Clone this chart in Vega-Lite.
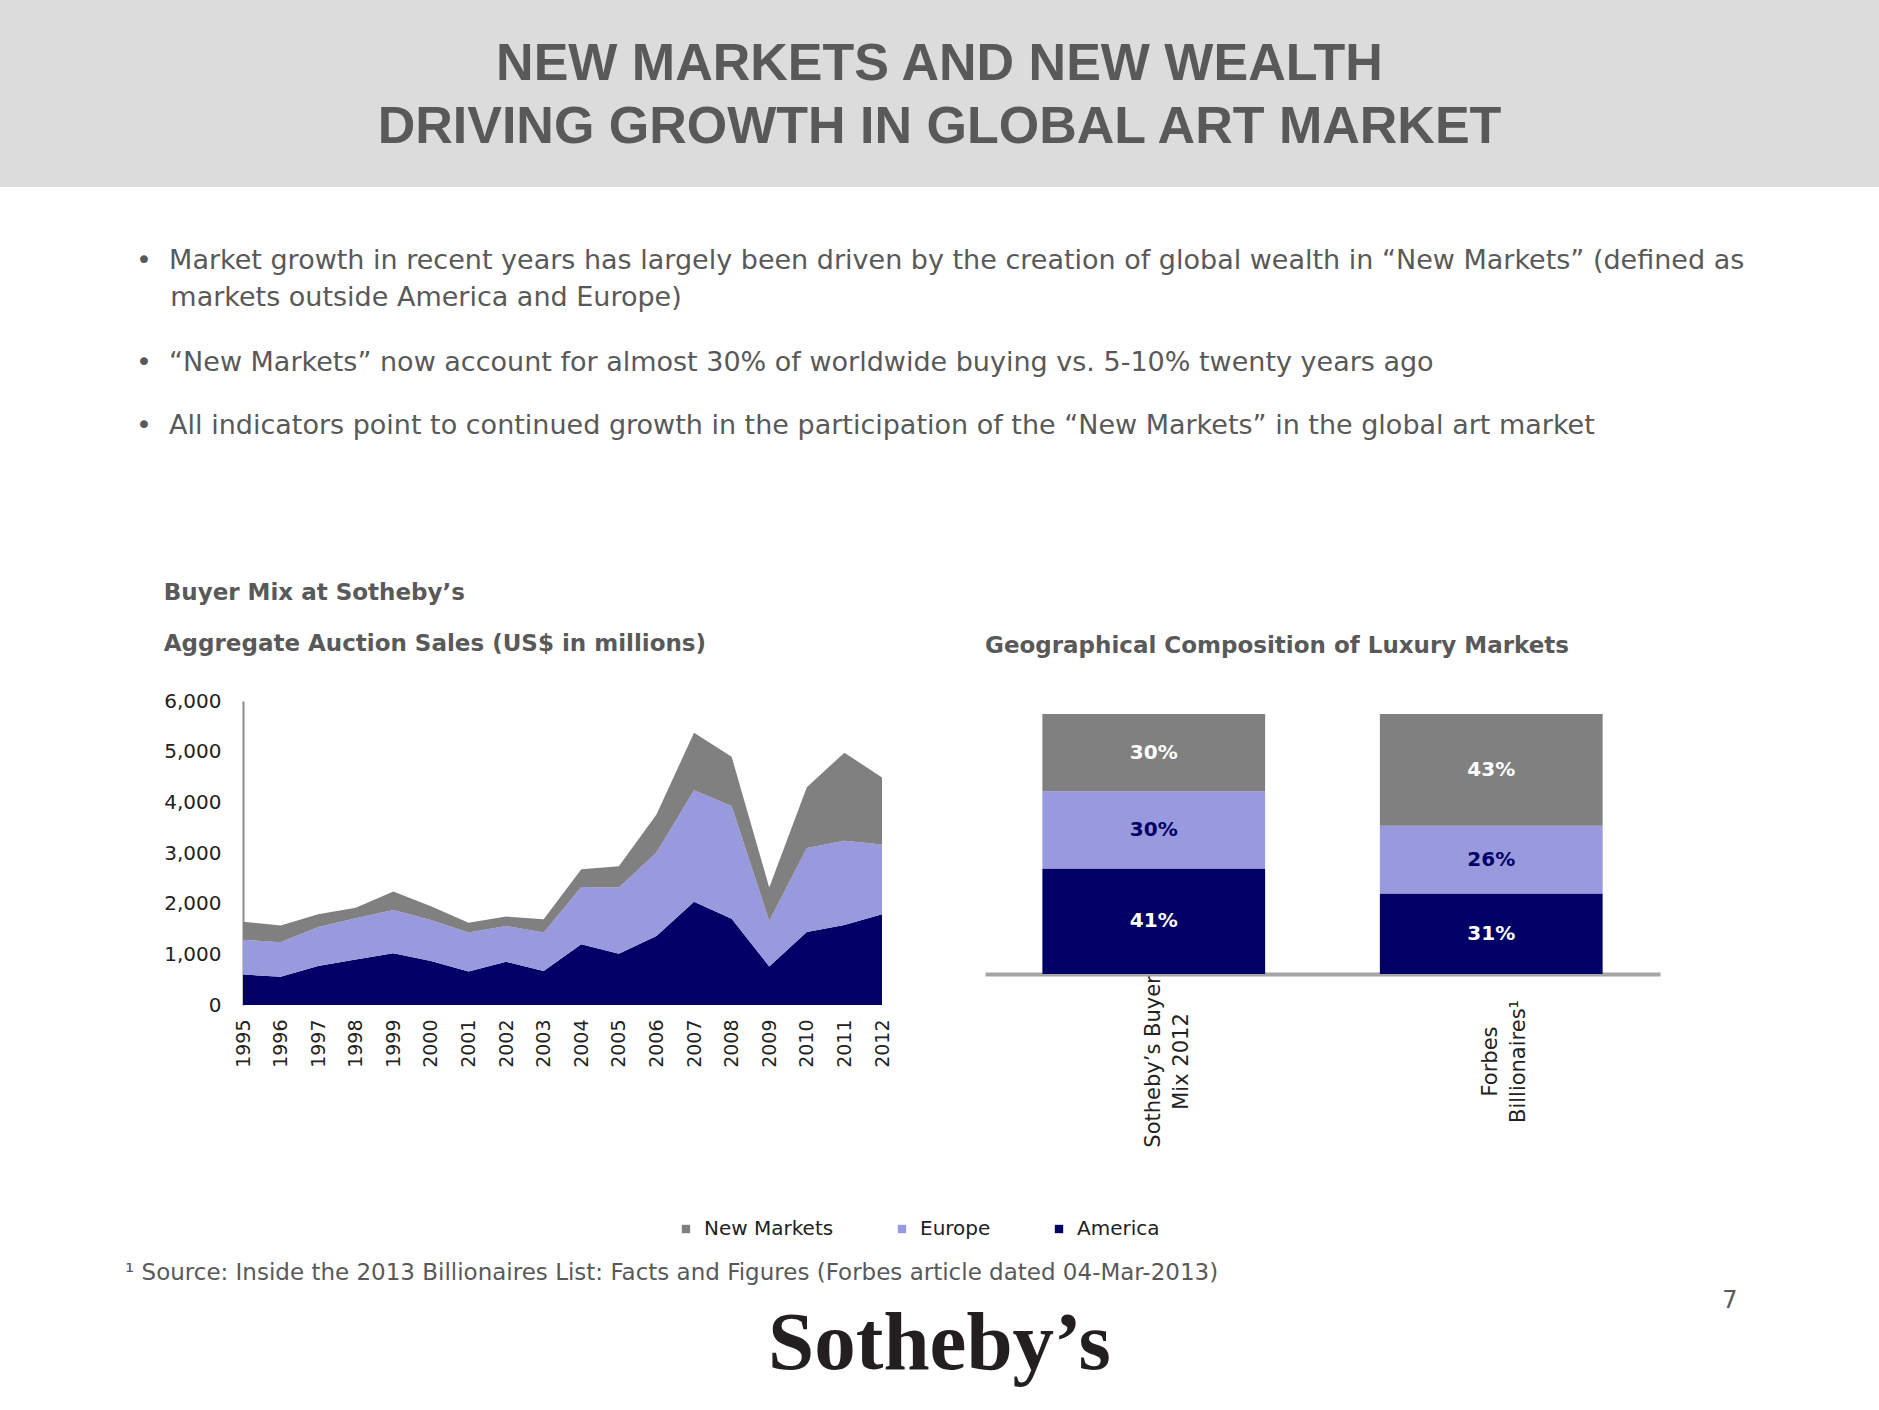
{
  "$schema": "https://vega.github.io/schema/vega-lite/v6.json",
  "padding": {"left": 0, "top": 0, "right": 0, "bottom": 20},
  "background": "#ffffff",
  "bounds": "full",
  "spacing": 0,
  "resolve": {"scale": {"color": "independent"}, "legend": {"color": "independent"}},
  "config": {
    "view": {"stroke": null},
    "legend": {"layout": {"bottom": {"anchor": "middle"}}},
    "axis": {"labelFont": "DejaVu Sans"}
  },
  "vconcat": [
    {
      "width": 1879,
      "height": 187,
      "view": {"fill": "#dcdcdc", "stroke": null},
      "data": {"values": [{"line": "1", "t": "NEW MARKETS AND NEW WEALTH"}, {"line": "2", "t": "DRIVING GROWTH IN GLOBAL ART MARKET"}]},
      "mark": {"type": "text", "font": "Liberation Sans", "fontSize": 52, "fontWeight": "bold", "color": "#595959", "align": "center", "baseline": "middle"},
      "encoding": {
        "y": {"field": "line", "type": "ordinal", "axis": null, "scale": {"type": "point", "padding": 0.984, "align": 0.516}},
        "text": {"field": "t"}
      }
    },
    {
      "width": 272,
      "height": 306,
      "encoding": {
        "y": {"field": "b", "type": "ordinal", "axis": null, "scale": {"type": "point", "domain": ["A", "B"], "padding": 1, "align": 0.404}},
        "text": {"field": "t"}
      },
      "layer": [
        {
          "data": {"values": [{"b": "A", "t": "•\u00a0\u00a0Market growth in recent years has largely been driven by the creation of global wealth in “New Markets” (defined as\n\u200b\u00a0\u00a0\u00a0\u00a0markets outside America and Europe)"}]},
          "mark": {"type": "text", "font": "DejaVu Sans", "fontSize": 27, "color": "#595959", "align": "left", "baseline": "alphabetic", "lineBreak": "\n", "lineHeight": 37}
        },
        {
          "data": {"values": [{"b": "B", "t": "•\u00a0\u00a0“New Markets” now account for almost 30% of worldwide buying vs. 5-10% twenty years ago\n•\u00a0\u00a0All indicators point to continued growth in the participation of the “New Markets” in the global art market"}]},
          "mark": {"type": "text", "font": "DejaVu Sans", "fontSize": 27, "color": "#595959", "align": "left", "baseline": "alphabetic", "lineBreak": "\n", "lineHeight": 63}
        }
      ]
    },
    {"width": 1, "height": 89, "data": {"values": []}, "mark": "point"},
    {
      "bounds": "flush",
      "spacing": 103,
      "hconcat": [
        {"width": 140, "height": 1, "data": {"values": []}, "mark": "point"},
        {
          "width": 639,
          "height": 304,
          "title": {"text": ["Buyer Mix at Sotheby’s", "Aggregate Auction Sales (US$ in millions)"], "anchor": "start", "frame": "bounds", "font": "DejaVu Sans", "fontSize": 23, "fontWeight": "bold", "color": "#595959", "lineHeight": 51, "offset": 35},
          "data": {"values": [
            {"year": "1995", "region": "America", "value": 600}, {"year": "1995", "region": "Europe", "value": 690}, {"year": "1995", "region": "New Markets", "value": 355},
            {"year": "1996", "region": "America", "value": 560}, {"year": "1996", "region": "Europe", "value": 680}, {"year": "1996", "region": "New Markets", "value": 330},
            {"year": "1997", "region": "America", "value": 770}, {"year": "1997", "region": "Europe", "value": 770}, {"year": "1997", "region": "New Markets", "value": 250},
            {"year": "1998", "region": "America", "value": 900}, {"year": "1998", "region": "Europe", "value": 810}, {"year": "1998", "region": "New Markets", "value": 210},
            {"year": "1999", "region": "America", "value": 1020}, {"year": "1999", "region": "Europe", "value": 855}, {"year": "1999", "region": "New Markets", "value": 365},
            {"year": "2000", "region": "America", "value": 870}, {"year": "2000", "region": "Europe", "value": 810}, {"year": "2000", "region": "New Markets", "value": 270},
            {"year": "2001", "region": "America", "value": 660}, {"year": "2001", "region": "Europe", "value": 770}, {"year": "2001", "region": "New Markets", "value": 195},
            {"year": "2002", "region": "America", "value": 855}, {"year": "2002", "region": "Europe", "value": 705}, {"year": "2002", "region": "New Markets", "value": 185},
            {"year": "2003", "region": "America", "value": 670}, {"year": "2003", "region": "Europe", "value": 760}, {"year": "2003", "region": "New Markets", "value": 260},
            {"year": "2004", "region": "America", "value": 1200}, {"year": "2004", "region": "Europe", "value": 1130}, {"year": "2004", "region": "New Markets", "value": 350},
            {"year": "2005", "region": "America", "value": 1010}, {"year": "2005", "region": "Europe", "value": 1310}, {"year": "2005", "region": "New Markets", "value": 420},
            {"year": "2006", "region": "America", "value": 1360}, {"year": "2006", "region": "Europe", "value": 1650}, {"year": "2006", "region": "New Markets", "value": 750},
            {"year": "2007", "region": "America", "value": 2040}, {"year": "2007", "region": "Europe", "value": 2200}, {"year": "2007", "region": "New Markets", "value": 1135},
            {"year": "2008", "region": "America", "value": 1700}, {"year": "2008", "region": "Europe", "value": 2230}, {"year": "2008", "region": "New Markets", "value": 970},
            {"year": "2009", "region": "America", "value": 760}, {"year": "2009", "region": "Europe", "value": 900}, {"year": "2009", "region": "New Markets", "value": 660},
            {"year": "2010", "region": "America", "value": 1440}, {"year": "2010", "region": "Europe", "value": 1660}, {"year": "2010", "region": "New Markets", "value": 1200},
            {"year": "2011", "region": "America", "value": 1580}, {"year": "2011", "region": "Europe", "value": 1660}, {"year": "2011", "region": "New Markets", "value": 1740},
            {"year": "2012", "region": "America", "value": 1790}, {"year": "2012", "region": "Europe", "value": 1380}, {"year": "2012", "region": "New Markets", "value": 1320}
          ]},
          "mark": {"type": "area"},
          "encoding": {
            "x": {"field": "year", "type": "ordinal", "scale": {"type": "point", "padding": 0}, "axis": {"labelAngle": -90, "domain": false, "ticks": false, "tickSize": 0, "labelPadding": 14, "labelFont": "DejaVu Sans", "labelFontSize": 19, "labelColor": "#222222", "title": null}},
            "y": {"field": "value", "type": "quantitative", "stack": "zero", "scale": {"domain": [0, 6000], "nice": false}, "axis": {"values": [0, 1000, 2000, 3000, 4000, 5000, 6000], "format": ",d", "grid": false, "ticks": false, "tickSize": 0, "domainColor": "#8c8c8c", "domainWidth": 2, "labelPadding": 22, "labelFont": "DejaVu Sans", "labelFontSize": 20, "labelColor": "#222222", "title": null}},
            "color": {"field": "region", "type": "nominal", "scale": {"domain": ["New Markets", "Europe", "America"], "range": ["#808080", "#9999dd", "#000066"]}, "legend": {"orient": "bottom", "direction": "horizontal", "title": null, "symbolType": "square", "symbolSize": 70, "symbolStrokeWidth": 0, "labelFont": "DejaVu Sans", "labelFontSize": 20, "labelColor": "#222222", "columnPadding": 58, "labelOffset": 8, "offset": 71}},
            "order": {"field": "region", "type": "nominal", "sort": "ascending"}
          }
        },
        {
          "width": 675,
          "height": 273,
          "title": {"text": "Geographical Composition of Luxury Markets", "anchor": "start", "frame": "group", "font": "DejaVu Sans", "fontSize": 23, "fontWeight": "bold", "color": "#595959", "offset": 43},
          "data": {"values": [
            {"bar": "Sotheby’s Buyer|Mix 2012", "region": "America", "pct": 41, "lbl": "41%"},
            {"bar": "Sotheby’s Buyer|Mix 2012", "region": "Europe", "pct": 30, "lbl": "30%"},
            {"bar": "Sotheby’s Buyer|Mix 2012", "region": "New Markets", "pct": 30, "lbl": "30%"},
            {"bar": "Forbes|Billionaires¹", "region": "America", "pct": 31, "lbl": "31%"},
            {"bar": "Forbes|Billionaires¹", "region": "Europe", "pct": 26, "lbl": "26%"},
            {"bar": "Forbes|Billionaires¹", "region": "New Markets", "pct": 43, "lbl": "43%"}
          ]},
          "encoding": {
            "x": {"field": "bar", "type": "nominal", "sort": null, "scale": {"paddingInner": 0.34, "paddingOuter": 0.17}, "axis": {"labelAngle": -90, "labelAlign": "center", "labelBaseline": "middle", "labelExpr": "split(datum.label, '|')", "labelPadding": 87, "labelLineHeight": 28, "ticks": false, "tickSize": 0, "domainColor": "#a6a6a6", "domainWidth": 4, "labelFont": "DejaVu Sans", "labelFontSize": 21, "labelColor": "#222222", "title": null}}
          },
          "layer": [
            {
              "mark": {"type": "bar"},
              "encoding": {
                "y": {"field": "pct", "type": "quantitative", "stack": "normalize", "scale": {"domain": [0, 1.05], "nice": false}, "axis": null},
                "color": {"field": "region", "type": "nominal", "scale": {"domain": ["New Markets", "Europe", "America"], "range": ["#808080", "#9999dd", "#000066"]}, "legend": {"orient": "bottom", "direction": "horizontal", "title": null, "symbolType": "square", "symbolSize": 70, "symbolStrokeWidth": 0, "labelFont": "DejaVu Sans", "labelFontSize": 20, "labelColor": "#222222", "columnPadding": 58, "labelOffset": 8, "offset": 71}},
                "order": {"field": "region", "type": "nominal", "sort": "ascending"}
              }
            },
            {
              "mark": {"type": "text", "font": "DejaVu Sans", "fontSize": 20, "fontWeight": "bold", "baseline": "middle", "align": "center"},
              "encoding": {
                "y": {"field": "pct", "type": "quantitative", "stack": "normalize", "bandPosition": 0.5},
                "detail": {"field": "region", "type": "nominal"},
                "order": {"field": "region", "type": "nominal", "sort": "ascending"},
                "text": {"field": "lbl"},
                "color": {"condition": {"test": "datum.region === 'Europe'", "value": "#000066"}, "value": "#ffffff"}
              }
            }
          ]
        },
        {"width": 73, "height": 1, "data": {"values": []}, "mark": "point"}
      ]
    },
    {
      "bounds": "flush",
      "spacing": 50,
      "hconcat": [
        {
          "width": 250,
          "height": 82,
          "data": {"values": [{"t": "¹ Source: Inside the 2013 Billionaires List: Facts and Figures (Forbes article dated 04-Mar-2013)"}]},
          "mark": {"type": "text", "font": "DejaVu Sans", "fontSize": 23, "color": "#595959", "align": "left", "baseline": "alphabetic"},
          "encoding": {"text": {"field": "t"}}
        },
        {
          "width": 1279,
          "height": 128,
          "data": {"values": [{"t": "Sotheby’s"}]},
          "mark": {"type": "text", "font": "Liberation Serif", "fontSize": 83, "fontWeight": "bold", "color": "#231f20", "align": "center", "baseline": "top"},
          "encoding": {"text": {"field": "t"}}
        },
        {
          "width": 202,
          "height": 138,
          "data": {"values": [{"t": "7"}]},
          "mark": {"type": "text", "font": "DejaVu Sans", "fontSize": 24, "color": "#595959", "align": "center", "baseline": "alphabetic"},
          "encoding": {"text": {"field": "t"}}
        }
      ]
    }
  ]
}
